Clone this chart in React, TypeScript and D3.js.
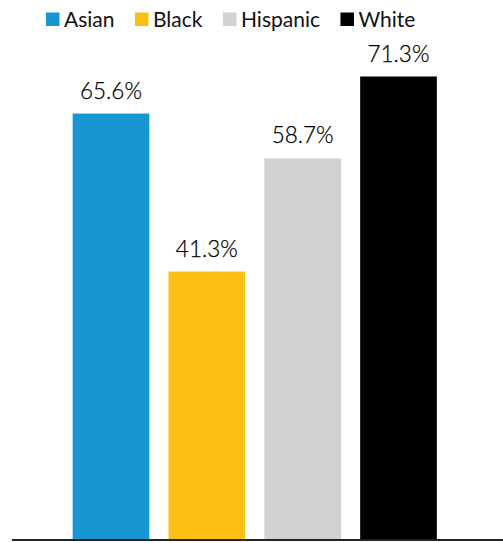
import React from "react";
import * as d3 from "d3";

const categories = ["Asian", "Black", "Hispanic", "White"];
const values = [65.6, 41.3, 58.7, 71.3];
const colors = ["#1896d3", "#fcbf15", "#d2d2d2", "#000000"];

const W = 503;
const H = 543;
const FONT = "Lato, 'Open Sans', sans-serif";

function measure(text: string, size: number): number {
  const c = document.createElement("canvas").getContext("2d");
  if (!c) return text.length * size * 0.5;
  c.font = `${size}px Lato`;
  return c.measureText(text).width;
}

export default function App() {
  const x = d3.scaleBand<string>().domain(categories).range([53.5, 456]).padding(0.2);
  const y = d3.scaleLinear().domain([0, 71.3]).range([540, 76.5]);

  const legendItems: { name: string; color: string; x: number }[] = [];
  let lx = 46;
  categories.forEach((c, i) => {
    legendItems.push({ name: c, color: colors[i], x: lx });
    lx += 14 + 4 + measure(c, 21) + 20.5;
  });

  return (
    <svg width={W} height={H} style={{ position: "absolute", left: 0, top: 0 }} fontFamily={FONT}>
      <g>
        {legendItems.map((d) => (
          <g key={d.name} transform={`translate(${d.x},0)`}>
            <rect x={0} y={12.5} width={13.5} height={13.5} fill={d.color} />
            <text x={18} y={26.7} fontSize={21} fill="#111">
              {d.name}
            </text>
          </g>
        ))}
      </g>
      <g>
        {categories.map((c, i) => (
          <g key={c}>
            <rect
              x={x(c)}
              y={y(values[i])}
              width={x.bandwidth()}
              height={y(0) - y(values[i])}
              fill={colors[i]}
            />
            <text
              x={(x(c) as number) + x.bandwidth() / 2}
              y={y(values[i]) - 15}
              textAnchor="middle"
              fontSize={22.5}
              fontWeight={300}
              fill="#000"
              stroke="#000"
              strokeWidth={0.25}
            >
              {d3.format(".1f")(values[i])}%
            </text>
          </g>
        ))}
      </g>
      <line x1={12} x2={W} y1={540} y2={540} stroke="#222" strokeWidth={2} />
    </svg>
  );
}
